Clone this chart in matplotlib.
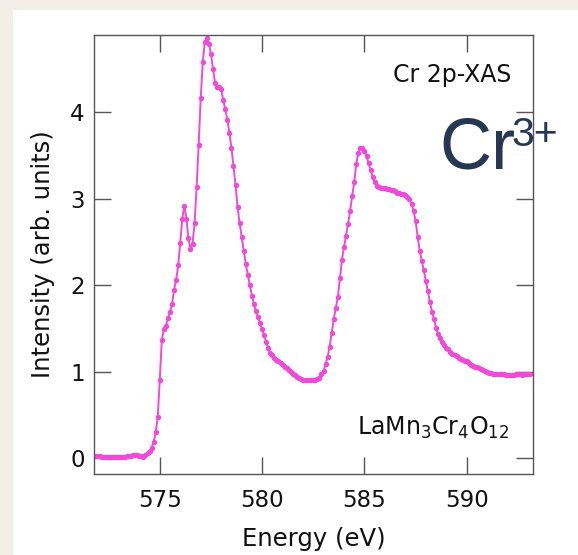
import matplotlib
matplotlib.use("Agg")
import matplotlib.pyplot as plt
from matplotlib.patches import Rectangle

# Cr L2,3-edge absorption spectrum of LaMn3Cr4O12
energy_ev = [
    571.9,
    572.0, 572.1, 572.2, 572.3, 572.4, 572.5, 572.6, 572.7, 572.8, 572.9,
    573.0, 573.1, 573.2, 573.3, 573.4, 573.5, 573.6, 573.7, 573.8, 573.9,
    574.0, 574.1, 574.2, 574.3, 574.4, 574.5, 574.6, 574.7, 574.8, 574.9,
    575.0, 575.1, 575.2, 575.3, 575.4, 575.5, 575.6, 575.7, 575.8, 575.9,
    576.0, 576.1, 576.2, 576.3, 576.4, 576.5, 576.6, 576.7, 576.8, 576.9,
    577.0, 577.1, 577.2, 577.3, 577.4, 577.5, 577.6, 577.7, 577.8, 577.9,
    578.0, 578.1, 578.2, 578.3, 578.4, 578.5, 578.6, 578.7, 578.8, 578.9,
    579.0, 579.1, 579.2, 579.3, 579.4, 579.5, 579.6, 579.7, 579.8, 579.9,
    580.0, 580.1, 580.2, 580.3, 580.4, 580.5, 580.6, 580.7, 580.8, 580.9,
    581.0, 581.1, 581.2, 581.3, 581.4, 581.5, 581.6, 581.7, 581.8, 581.9,
    582.0, 582.1, 582.2, 582.3, 582.4, 582.5, 582.6, 582.7, 582.8, 582.9,
    583.0, 583.1, 583.2, 583.3, 583.4, 583.5, 583.6, 583.7, 583.8, 583.9,
    584.0, 584.1, 584.2, 584.3, 584.4, 584.5, 584.6, 584.7, 584.8, 584.9,
    585.0, 585.1, 585.2, 585.3, 585.4, 585.5, 585.6, 585.7, 585.8, 585.9,
    586.0, 586.1, 586.2, 586.3, 586.4, 586.5, 586.6, 586.7, 586.8, 586.9,
    587.0, 587.1, 587.2, 587.3, 587.4, 587.5, 587.6, 587.7, 587.8, 587.9,
    588.0, 588.1, 588.2, 588.3, 588.4, 588.5, 588.6, 588.7, 588.8, 588.9,
    589.0, 589.1, 589.2, 589.3, 589.4, 589.5, 589.6, 589.7, 589.8, 589.9,
    590.0, 590.1, 590.2, 590.3, 590.4, 590.5, 590.6, 590.7, 590.8, 590.9,
    591.0, 591.1, 591.2, 591.3, 591.4, 591.5, 591.6, 591.7, 591.8, 591.9,
    592.0, 592.1, 592.2, 592.3, 592.4, 592.5, 592.6, 592.7, 592.8, 592.9,
    593.0, 593.1,
]

intensity = [
    0.03,
    0.03, 0.03, 0.02, 0.02, 0.02, 0.02, 0.02, 0.02, 0.01, 0.01,
    0.01, 0.01, 0.02, 0.02, 0.03, 0.03, 0.03, 0.04, 0.04, 0.04,
    0.03, 0.03, 0.02, 0.04, 0.06, 0.08, 0.12, 0.19, 0.30, 0.48,
    0.91, 1.37, 1.49, 1.53, 1.62, 1.69, 1.78, 1.95, 2.06, 2.23,
    2.49, 2.77, 2.92, 2.77, 2.54, 2.42, 2.48, 2.72, 3.13, 3.62,
    4.16, 4.58, 4.81, 4.85, 4.79, 4.67, 4.50, 4.34, 4.29, 4.29,
    4.26, 4.14, 4.03, 3.91, 3.76, 3.59, 3.38, 3.16, 2.90, 2.72,
    2.56, 2.40, 2.25, 2.12, 2.00, 1.88, 1.78, 1.70, 1.63, 1.56,
    1.49, 1.42, 1.34, 1.27, 1.22, 1.19, 1.16, 1.14, 1.12, 1.10,
    1.08, 1.06, 1.04, 1.02, 1.00, 0.98, 0.96, 0.94, 0.93, 0.92,
    0.91, 0.90, 0.90, 0.90, 0.91, 0.91, 0.91, 0.92, 0.93, 0.97,
    1.01, 1.09, 1.17, 1.29, 1.45, 1.61, 1.74, 1.86, 2.08, 2.29,
    2.44, 2.57, 2.71, 2.86, 3.03, 3.19, 3.40, 3.53, 3.59, 3.59,
    3.55, 3.49, 3.41, 3.33, 3.25, 3.19, 3.15, 3.13, 3.12, 3.12,
    3.12, 3.11, 3.11, 3.10, 3.10, 3.09, 3.07, 3.06, 3.05, 3.05,
    3.04, 3.02, 2.99, 2.94, 2.86, 2.74, 2.56, 2.40, 2.28, 2.17,
    2.05, 1.93, 1.80, 1.69, 1.61, 1.50, 1.44, 1.39, 1.34, 1.31,
    1.28, 1.26, 1.23, 1.21, 1.19, 1.18, 1.16, 1.15, 1.14, 1.13,
    1.12, 1.10, 1.08, 1.07, 1.06, 1.05, 1.04, 1.03, 1.02, 1.01,
    1.00, 0.99, 0.99, 0.98, 0.98, 0.98, 0.97, 0.97, 0.97, 0.96,
    0.96, 0.96, 0.96, 0.96, 0.97, 0.97, 0.97, 0.96, 0.97, 0.97,
    0.98, 0.98,
]

x_ticks = [575, 580, 585, 590]
y_ticks = [0, 1, 2, 3, 4]

W, H = 578, 555
fig = plt.figure(figsize=(W / 100, H / 100), dpi=100, facecolor="#f3efe7")

# white card behind the plot
fig.patches.append(Rectangle((13 / W, 0), 1 - 13 / W, 1 - 10 / H,
                             transform=fig.transFigure, facecolor="white",
                             edgecolor="none", zorder=-1))

left, right, top, bottom = 94.3, 533.3, 34.5, 473.6
ax = fig.add_axes([left / W, 1 - bottom / H, (right - left) / W, (bottom - top) / H])
ax.set_facecolor("white")

ax.plot(energy_ev, intensity, color="#f04ad8", lw=1.4, marker="o",
        markersize=3.9, markeredgewidth=0)

ax.set_xlim(571.8, 593.25)
ax.set_ylim(-0.176, 4.895)
ax.set_xticks(x_ticks)
ax.set_yticks(y_ticks)

spine_col = "#555555"
for s in ax.spines.values():
    s.set_color(spine_col)
    s.set_linewidth(1.0)

ax.tick_params(axis="both", which="major", direction="in", length=12.5, width=1.0,
               color=spine_col, top=True, right=True, labelsize=16.5,
               labelcolor="#111111")
ax.tick_params(axis="x", pad=11)
ax.tick_params(axis="y", pad=7)

ax.set_xlabel("Energy (eV)", fontsize=17.5, color="#111111", labelpad=11)
ax.set_ylabel("Intensity (arb. units)", fontsize=17.5, color="#111111", labelpad=11)

ax.text(0.949, 0.892, "Cr 2p-XAS", transform=ax.transAxes, ha="right",
        va="baseline", fontsize=17, color="#111111")
ax.text(0.9446, 0.088, r"LaMn$_3$Cr$_4$O$_{12}$", transform=ax.transAxes,
        ha="right", va="baseline", fontsize=17, color="#111111")

# oxidation-state label
navy = "#263752"
fig.text(439 / W, 1 - 168.3 / H, "Cr", fontsize=52, family="Liberation Sans",
         color=navy, ha="left", va="baseline")
fig.text(511 / W, 1 - 146.5 / H, "3+", fontsize=29.5, family="Liberation Sans",
         color=navy, ha="left", va="baseline")

fig.savefig("out.png", dpi=100, facecolor=fig.get_facecolor())
